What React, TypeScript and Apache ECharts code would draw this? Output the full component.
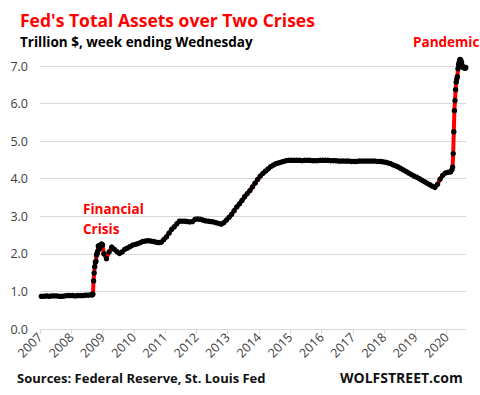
import React, { useEffect, useRef } from "react";
import * as echarts from "echarts";

// Fed total assets, trillion $
const monthly2007 = [0.87, 0.87, 0.88, 0.87, 0.88, 0.88, 0.88, 0.87, 0.87, 0.88, 0.89, 0.89];
const monthly2008 = [0.89, 0.88, 0.89, 0.89, 0.89, 0.9, 0.9, 0.91]; // Jan-Aug
const crisisWeeks = [
  "2008-09-03", "2008-09-10", "2008-09-17", "2008-09-24", "2008-10-01", "2008-10-08",
  "2008-10-15", "2008-10-22", "2008-10-29", "2008-11-05", "2008-11-12", "2008-11-19",
  "2008-11-26", "2008-12-03", "2008-12-10", "2008-12-17", "2008-12-24", "2008-12-31",
];
const crisisValues = [0.91, 0.93, 1.28, 1.49, 1.66, 1.78, 1.8, 1.97, 2.01, 2.07, 2.21, 2.19, 2.14, 2.19, 2.24, 2.26, 2.25, 2.24];
const monthly2009 = [2.0, 1.87, 2.05, 2.18, 2.12, 2.06, 2.01, 2.05, 2.12, 2.15, 2.19, 2.23];
const monthly2010 = [2.25, 2.27, 2.3, 2.33, 2.34, 2.35, 2.34, 2.33, 2.31, 2.3, 2.31, 2.38];
const monthly2011 = [2.45, 2.55, 2.65, 2.72, 2.8, 2.87, 2.87, 2.87, 2.86, 2.85, 2.86, 2.92];
const monthly2012 = [2.93, 2.92, 2.9, 2.88, 2.87, 2.86, 2.85, 2.83, 2.81, 2.79, 2.83, 2.9];
const monthly2013 = [2.97, 3.05, 3.15, 3.25, 3.33, 3.42, 3.52, 3.6, 3.68, 3.78, 3.88, 3.98];
const monthly2014 = [4.07, 4.14, 4.2, 4.26, 4.32, 4.36, 4.4, 4.42, 4.44, 4.46, 4.48, 4.49];
const monthly2015 = [4.49, 4.49, 4.49, 4.49, 4.48, 4.49, 4.49, 4.49, 4.48, 4.48, 4.48, 4.49];
const monthly2016 = [4.49, 4.49, 4.49, 4.48, 4.48, 4.48, 4.47, 4.47, 4.47, 4.47, 4.47, 4.46];
const monthly2017 = [4.46, 4.46, 4.47, 4.47, 4.47, 4.47, 4.47, 4.47, 4.47, 4.46, 4.46, 4.45];
const monthly2018 = [4.44, 4.42, 4.4, 4.37, 4.34, 4.31, 4.27, 4.23, 4.19, 4.15, 4.11, 4.07];
const monthly2019 = [4.04, 4.0, 3.96, 3.92, 3.88, 3.84, 3.8, 3.77, 3.85, 3.99, 4.09, 4.15];
const monthly2020 = [4.17, 4.18]; // Jan-Feb
const pandemicWeeks = [
  "2020-03-04", "2020-03-11", "2020-03-18", "2020-03-25", "2020-04-01", "2020-04-08",
  "2020-04-15", "2020-04-22", "2020-04-29", "2020-05-06", "2020-05-13", "2020-05-20",
  "2020-05-27", "2020-06-03", "2020-06-10", "2020-06-17", "2020-06-24", "2020-07-01",
  "2020-07-08", "2020-07-15", "2020-07-22", "2020-07-29", "2020-08-05", "2020-08-12",
];
const pandemicValues = [4.24, 4.31, 4.67, 5.25, 5.81, 6.08, 6.37, 6.57, 6.66, 6.72, 6.93, 7.04, 7.1, 7.17, 7.17, 7.14, 7.09, 7.0, 6.97, 6.97, 6.95, 6.96, 6.94, 6.96];

const yearTicks = [2007, 2008, 2009, 2010, 2011, 2012, 2013, 2014, 2015, 2016, 2017, 2018, 2019, 2020];

function dateToYear(s: string): number {
  const [y, m, d] = s.split("-").map(Number);
  return y + (Date.UTC(y, m - 1, d) - Date.UTC(y, 0, 1)) / (365.25 * 86400000);
}

function buildData(): [number, number][] {
  const out: [number, number][] = [];
  const addMonthly = (year: number, vals: number[]) =>
    vals.forEach((v, i) => out.push([year + (i + 0.5) / 12, v]));
  const addWeekly = (dates: string[], vals: number[]) =>
    dates.forEach((d, i) => out.push([dateToYear(d), vals[i]]));
  addMonthly(2007, monthly2007);
  addMonthly(2008, monthly2008);
  addWeekly(crisisWeeks, crisisValues);
  addMonthly(2009, monthly2009);
  addMonthly(2010, monthly2010);
  addMonthly(2011, monthly2011);
  addMonthly(2012, monthly2012);
  addMonthly(2013, monthly2013);
  addMonthly(2014, monthly2014);
  addMonthly(2015, monthly2015);
  addMonthly(2016, monthly2016);
  addMonthly(2017, monthly2017);
  addMonthly(2018, monthly2018);
  addMonthly(2019, monthly2019);
  addMonthly(2020, monthly2020);
  addWeekly(pandemicWeeks, pandemicValues);
  return out;
}

const FONT = "'Open Sans', 'Noto Sans', sans-serif";

export default function App() {
  const ref = useRef<HTMLDivElement>(null);
  useEffect(() => {
    if (!ref.current) return;
    const chart = echarts.init(ref.current, undefined, { renderer: "svg" });
    chart.setOption({
      animation: false,
      backgroundColor: "#ffffff",
      grid: { left: 40, right: 14, top: 66, bottom: 66 },
      xAxis: {
        type: "value",
        min: 2007,
        max: 2020.62,
        splitLine: { show: false },
        axisLine: { show: true, lineStyle: { color: "#d9d9d9", width: 1 } },
        axisTick: { show: true, length: 5, customValues: yearTicks, lineStyle: { color: "#d9d9d9" } },
        axisLabel: {
          customValues: yearTicks,
          rotate: 45,
          margin: 6,
          fontSize: 12.5,
          fontFamily: FONT,
          color: "#404040",
          formatter: (v: number) => String(Math.round(v)),
        },
      },
      yAxis: {
        type: "value",
        min: 0,
        max: 7,
        interval: 1,
        axisLine: { show: false },
        axisTick: { show: false },
        splitLine: { lineStyle: { color: "#d9d9d9", width: 1 } },
        axisLabel: {
          margin: 12,
          fontSize: 12.5,
          fontFamily: FONT,
          color: "#404040",
          formatter: (v: number) => v.toFixed(1),
        },
      },
      graphic: [
        {
          type: "text", left: 20, top: 11,
          style: { text: "Fed's Total Assets over Two Crises", fill: "#ff0000", font: `bold 17.5px ${FONT}` },
        },
        {
          type: "text", left: 20, top: 35,
          style: { text: "Trillion $, week ending Wednesday", fill: "#000000", font: `bold 13.5px ${FONT}` },
        },
        {
          type: "text", left: 413, top: 35,
          style: { text: "Pandemic", fill: "#ff0000", font: `bold 13.5px ${FONT}` },
        },
        {
          type: "text", left: 83, top: 199,
          style: { text: "Financial\nCrisis", fill: "#ff0000", font: `bold 13.5px ${FONT}`, lineHeight: 20 },
        },
        {
          type: "text", left: 17, top: 371,
          style: { text: "Sources: Federal Reserve, St. Louis Fed", fill: "#111111", font: `bold 13px ${FONT}` },
        },
        {
          type: "text", left: 340, top: 370,
          style: { text: "WOLFSTREET.com", fill: "#111111", font: `bold 14px ${FONT}` },
        },
      ],
      series: [
        {
          type: "line",
          data: buildData(),
          clip: false,
          symbol: "circle",
          symbolSize: 5.5,
          showAllSymbol: true,
          itemStyle: { color: "#000000", borderWidth: 0 },
          lineStyle: { color: "#ff0000", width: 4 },
          emphasis: { disabled: true },
        },
      ],
    });
    return () => chart.dispose();
  }, []);
  return <div ref={ref} style={{ position: "absolute", left: 0, top: 0, width: 480, height: 395 }} />;
}
